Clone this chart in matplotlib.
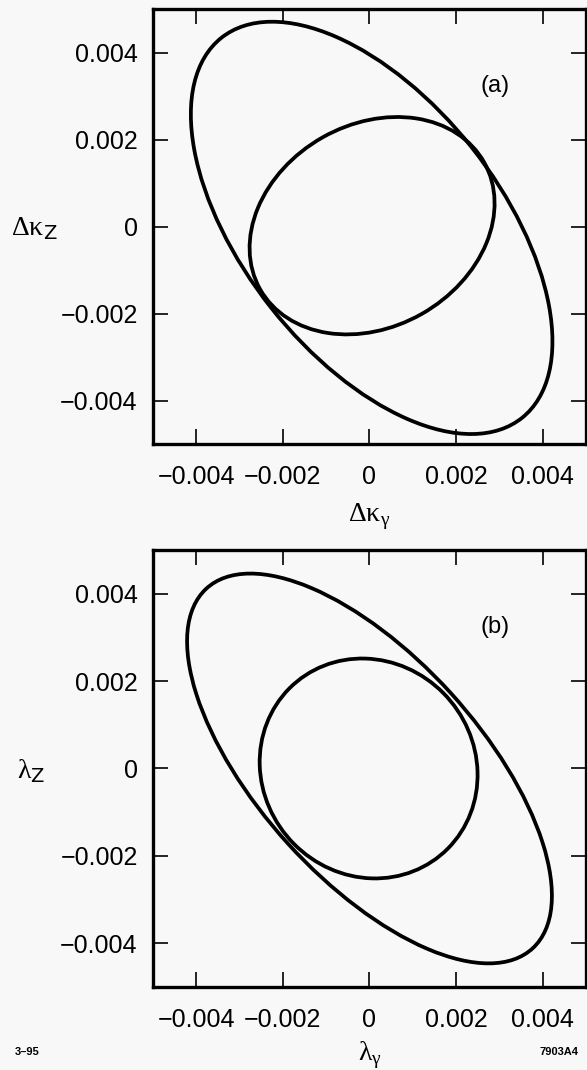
import matplotlib.pyplot as plt
from matplotlib.patches import Ellipse

# ellipse parameters: centre x, centre y, semi-axes, tilt (deg)
a_cx = [0.00005, 0.00006]
a_cy = [-0.00003, 0.00002]
a_semi_major = [0.00558, 0.00297]
a_semi_minor = [0.00296, 0.00233]
a_angle = [-51.5, 29.4]

b_cx = [0.0, -0.00002]
b_cy = [0.0, 0.0]
b_semi_major = [0.00558, 0.00259]
b_semi_minor = [0.00255, 0.00244]
b_angle = [-47.5, -45.0]

ticks = [-0.004, -0.002, 0, 0.002, 0.004]
tick_labels = ['\u22120.004', '\u22120.002', '0', '0.002', '0.004']

plt.rcParams['font.family'] = ['Liberation Sans', 'DejaVu Sans']
bg = '#f8f8f8'

fig = plt.figure(figsize=(5.87, 10.70), dpi=100, facecolor=bg)
ax_a = fig.add_axes([0.2606, 0.585, 0.7377, 0.4065])
ax_b = fig.add_axes([0.2606, 0.0776, 0.7377, 0.4084])

panels = [
    (ax_a, a_cx, a_cy, a_semi_major, a_semi_minor, a_angle, '(a)',
     r'$\mathregular{\Delta\kappa}_\mathsf{Z}$', r'$\mathregular{\Delta\kappa}_{\mathregular{\gamma}}$', -0.275, -0.133),
    (ax_b, b_cx, b_cy, b_semi_major, b_semi_minor, b_angle, '(b)',
     r'$\mathregular{\lambda}_\mathsf{Z}$', r'$\mathregular{\lambda}_{\mathregular{\gamma}}$', -0.282, -0.12),
]

for ax, cx, cy, sa, sb, ang, tag, ylab, xlab, ylx, xly in panels:
    ax.set_facecolor(bg)
    for i in range(len(cx)):
        e = Ellipse((cx[i], cy[i]), 2 * sa[i], 2 * sb[i], angle=ang[i],
                    fill=False, edgecolor='black', linewidth=2.7)
        ax.add_patch(e)
    ax.set_xlim(-0.005, 0.005)
    ax.set_ylim(-0.005, 0.005)
    ax.set_xticks(ticks)
    ax.set_yticks(ticks)
    ax.set_xticklabels(tick_labels)
    ax.set_yticklabels(tick_labels)
    ax.tick_params(axis='both', direction='in', length=11, width=1.2,
                   top=True, right=True, labelsize=18)
    ax.tick_params(axis='x', pad=15)
    ax.tick_params(axis='y', pad=11)
    for s in ax.spines.values():
        s.set_linewidth(2.4)
    ax.text(0.0029, 0.00323, tag, fontsize=17, ha='center', va='center')
    ax.set_ylabel(ylab, rotation=0, fontsize=20, family='Liberation Serif',
                  ha='center', va='center')
    ax.yaxis.set_label_coords(ylx, 0.495)
    ax.set_xlabel(xlab, fontsize=20, family='Liberation Serif', va='top')
    ax.xaxis.set_label_coords(0.5, xly)

fig.text(0.026, 0.017, '3\u201395', fontsize=8, fontweight='bold', ha='left', va='center')
fig.text(0.985, 0.017, '7903A4', fontsize=8, fontweight='bold', ha='right', va='center')

fig.savefig('out.png', dpi=100, facecolor=bg)
